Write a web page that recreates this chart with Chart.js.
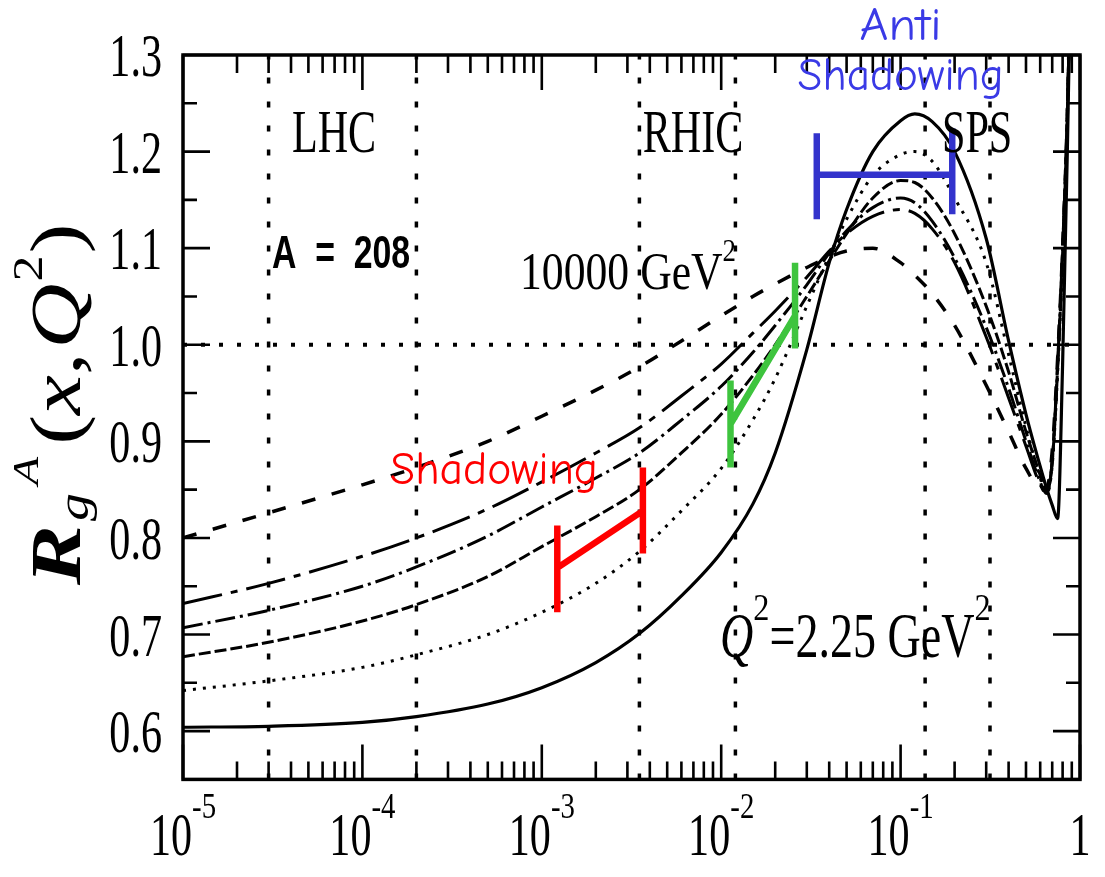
<!DOCTYPE html>
<html>
<head>
<meta charset="utf-8">
<title>R_g^A(x,Q^2)</title>
<script src="https://cdn.jsdelivr.net/npm/chart.js@4.4.1/dist/chart.umd.min.js"></script>
<style>
  html, body { margin: 0; padding: 0; background: #fff; }
  #wrap { width: 1105px; height: 877px; }
</style>
</head>
<body>
<div id="wrap"><canvas id="chart" width="1105" height="877"></canvas></div>
<script>
// x values shared by every curve
const xVals = [1e-5, 3e-5, 1e-4, 2e-4, 5e-4, 1e-3, 2e-3, 3.5e-3, 6e-3, 1e-2, 1.5e-2, 2e-2, 3e-2, 4e-2,
  5e-2, 7e-2, 0.1, 0.12, 0.15, 0.2, 0.3, 0.4, 0.5, 0.6, 0.65, 0.7, 0.75, 0.8, 0.85, 0.9];

// R_g^A for A = 208, from Q^2 = 2.25 GeV^2 (solid) up to 10000 GeV^2 (dashed)
const ratioQ2a = [0.604, 0.605, 0.609, 0.615, 0.628, 0.645, 0.671, 0.701, 0.740, 0.785, 0.835, 0.888, 0.995, 1.085,
  1.140, 1.200, 1.232, 1.239, 1.231, 1.200, 1.110, 1.004, 0.928, 0.874, 0.852, 0.834, 0.820, 0.980, 1.200, 1.450];
const ratioQ2b = [0.642, 0.652, 0.666, 0.679, 0.700, 0.723, 0.753, 0.786, 0.828, 0.872, 0.922, 0.965, 1.040, 1.092,
  1.130, 1.175, 1.197, 1.200, 1.190, 1.152, 1.085, 0.990, 0.915, 0.862, 0.846, 0.875, 0.970, 1.090, 1.240, 1.450];
const ratioQ2c = [0.677, 0.692, 0.714, 0.731, 0.760, 0.791, 0.822, 0.850, 0.888, 0.928, 0.968, 1.000, 1.050, 1.087,
  1.115, 1.152, 1.170, 1.168, 1.152, 1.115, 1.040, 0.972, 0.910, 0.865, 0.848, 0.878, 0.975, 1.095, 1.240, 1.450];
const ratioQ2d = [0.707, 0.725, 0.750, 0.770, 0.802, 0.832, 0.862, 0.888, 0.922, 0.957, 0.992, 1.020, 1.062, 1.095,
  1.118, 1.142, 1.152, 1.147, 1.128, 1.090, 1.018, 0.955, 0.900, 0.858, 0.846, 0.880, 0.978, 1.098, 1.240, 1.450];
const ratioQ2e = [0.732, 0.753, 0.781, 0.800, 0.830, 0.858, 0.888, 0.914, 0.947, 0.980, 1.012, 1.035, 1.070, 1.097,
  1.115, 1.133, 1.140, 1.136, 1.120, 1.085, 1.008, 0.945, 0.895, 0.855, 0.846, 0.880, 0.980, 1.100, 1.240, 1.450];
const ratioQ2f = [0.800, 0.826, 0.855, 0.873, 0.900, 0.926, 0.953, 0.977, 1.004, 1.030, 1.050, 1.063, 1.080, 1.091,
  1.097, 1.100, 1.085, 1.072, 1.053, 1.020, 0.958, 0.910, 0.872, 0.852, 0.852, 0.890, 0.985, 1.100, 1.240, 1.450];

// dotted guides: x ranges of the colliders and the R = 1 line
const regionX = [3e-5, 2e-4, 3.5e-3, 1.2e-2, 0.137, 0.315];
const unityY = 1.0;

// hand-drawn range markers: [left, right] x, bar bottoms, bar tops, link ends
const shadowX = [1.22e-3, 3.66e-3];
const shadowLo = [0.723, 0.784];
const shadowHi = [0.813, 0.873];
const shadowMid = [0.769, 0.828];
const rhicX = [1.127e-2, 2.58e-2];
const rhicLo = [0.873, 0.996];
const rhicHi = [0.963, 1.085];
const rhicMid = [0.918, 1.03];
const antiX = [3.41e-2, 0.194];
const antiLo = [1.130, 1.135];
const antiHi = [1.219, 1.224];
const antiMid = [1.176, 1.176];

// axis ticks
const xMajor = [1e-5, 1e-4, 1e-3, 1e-2, 1e-1, 1];
const xTickBase = ['10', '10', '10', '10', '10', '1'];
const xTickExp = ['-5', '-4', '-3', '-2', '-1', ''];
const yMajor = [0.6, 0.7, 0.8, 0.9, 1.0, 1.1, 1.2, 1.3];
const yTickLabels = ['0.6', '0.7', '0.8', '0.9', '1.0', '1.1', '1.2', '1.3'];

const SERIF = '"Liberation Serif", "Times New Roman", serif';
const COMIC = '"Comic Sans MS", "Comic Neue", Lato, sans-serif';

function curve(ys, dash, width) {
  return {
    data: xVals.map((x, i) => ({ x, y: ys[i] })),
    borderColor: '#000',
    borderWidth: width || 3,
    borderDash: dash,
    cubicInterpolationMode: 'monotone',
    pointRadius: 0,
    order: 1
  };
}

function marker(xs, lo, hi, mid, color) {
  return {
    data: [
      { x: xs[0], y: lo[0] }, { x: xs[0], y: hi[0] }, { x: xs[0], y: null },
      { x: xs[0], y: mid[0] }, { x: xs[1], y: mid[1] }, { x: xs[1], y: null },
      { x: xs[1], y: lo[1] }, { x: xs[1], y: hi[1] }
    ],
    borderColor: color,
    borderWidth: 6.5,
    pointRadius: 0,
    spanGaps: false,
    order: 0
  };
}

function guide(points, dash, width) {
  return {
    data: points,
    borderColor: '#000',
    borderWidth: width,
    borderDash: dash,
    pointRadius: 0,
    order: 2
  };
}

const datasets = [
  marker(shadowX, shadowLo, shadowHi, shadowMid, '#ff0000'),
  marker(rhicX, rhicLo, rhicHi, rhicMid, '#3ec43e'),
  marker(antiX, antiLo, antiHi, antiMid, '#3333cc'),
  curve(ratioQ2a, [], 3.2),
  curve(ratioQ2b, [3, 7], 3),
  curve(ratioQ2c, [12, 4], 3),
  curve(ratioQ2d, [20, 5, 3, 5], 3),
  curve(ratioQ2e, [40, 9, 7, 9], 3),
  curve(ratioQ2f, [14, 17], 3.5),
  guide([{ x: 1e-5, y: unityY }, { x: 1, y: unityY }], [4, 14], 4),
  ...regionX.map(v => guide([{ x: v, y: 0.55 }, { x: v, y: 1.3 }], [6, 18], 3.5))
];

// draws text squeezed horizontally; parts = [{text, font, sx, dy}]
function richText(ctx, parts, x, y, align) {
  let total = 0;
  const widths = parts.map(p => {
    ctx.font = p.font;
    const w = ctx.measureText(p.text).width * p.sx;
    total += w;
    return w;
  });
  let cx = align === 'center' ? x - total / 2 : align === 'right' ? x - total : x;
  parts.forEach((p, i) => {
    ctx.save();
    ctx.font = p.font;
    ctx.textAlign = 'left';
    ctx.textBaseline = 'alphabetic';
    ctx.translate(cx, y + (p.dy || 0));
    ctx.scale(p.sx, 1);
    ctx.fillText(p.text, 0, 0);
    ctx.restore();
    cx += widths[i];
  });
}

// same, but stretched or squeezed to a given width
function fitText(ctx, text, font, width, x, y, align) {
  ctx.font = font;
  const sx = width / ctx.measureText(text).width;
  richText(ctx, [{ text, font, sx }], x, y, align);
}

const annotations = [
  { parts: [{ text: 'LHC', font: '62px ' + SERIF, sx: 0.68 }], x: 6.95e-5, y: 1.2, align: 'center' },
  { parts: [{ text: 'RHIC', font: '62px ' + SERIF, sx: 0.68 }], x: 6.97e-3, y: 1.2, align: 'center' },
  { parts: [{ text: 'SPS', font: '62px ' + SERIF, sx: 0.68 }], x: 0.267, y: 1.2, align: 'center' },
  { parts: [{ text: 'A  =  208', font: 'bold 47px "Liberation Sans", Arial, sans-serif', sx: 0.72 }], x: 3.13e-5, y: 1.079, align: 'left' },
  { parts: [
      { text: '10000 GeV', font: '52px ' + SERIF, sx: 0.84 },
      { text: '2', font: '32px ' + SERIF, sx: 0.84, dy: -28 }
    ], x: 7.56e-4, y: 1.058, align: 'left' },
  { parts: [
      { text: 'Q', font: 'italic 64px ' + SERIF, sx: 0.72 },
      { text: '2', font: '38px ' + SERIF, sx: 0.85, dy: -37 },
      { text: '=2.25 GeV', font: '64px ' + SERIF, sx: 0.72 },
      { text: '2', font: '38px ' + SERIF, sx: 0.85, dy: -37 }
    ], x: 9.85e-3, y: 0.677, align: 'left' }
];

const handLabels = [
  { text: 'Shadowing', color: '#ff0000', width: 208, x: 1.425e-4, y: 0.856, align: 'left' },
  { text: 'Anti', color: '#3a3ae6', width: 82, x: 0.1, y: 1.3155, align: 'center' },
  { text: 'Shadowing', color: '#3a3ae6', width: 206, x: 0.1, y: 1.264, align: 'center' }
];

const frameAndText = {
  id: 'frameAndText',
  afterDraw(chart) {
    const { ctx, chartArea: a, scales: { x, y } } = chart;
    ctx.save();
    ctx.strokeStyle = '#000';
    ctx.fillStyle = '#000';

    // inward tick marks on all four sides
    ctx.lineWidth = 2.6;
    ctx.beginPath();
    for (let d = -5; d <= 0; d++) {
      for (let m = 1; m <= 9; m++) {
        const v = m * Math.pow(10, d);
        if (v > 1) break;
        const px = x.getPixelForValue(v);
        const len = m === 1 ? 35 : 18;
        ctx.moveTo(px, a.bottom); ctx.lineTo(px, a.bottom - len);
        ctx.moveTo(px, a.top); ctx.lineTo(px, a.top + len);
      }
    }
    for (let k = 11; k <= 26; k++) {
      const v = k * 0.05;
      const py = y.getPixelForValue(v);
      const len = k % 2 === 0 ? 27 : 14;
      ctx.moveTo(a.left, py); ctx.lineTo(a.left + len, py);
      ctx.moveTo(a.right, py); ctx.lineTo(a.right - len, py);
    }
    ctx.stroke();

    ctx.lineWidth = 3.5;
    ctx.strokeRect(a.left, a.top, a.right - a.left, a.bottom - a.top);

    // tick labels
    yMajor.forEach((v, i) => {
      richText(ctx, [{ text: yTickLabels[i], font: '62px ' + SERIF, sx: 0.68 }], 162, y.getPixelForValue(v) + 21, 'right');
    });
    xMajor.forEach((v, i) => {
      const parts = [{ text: xTickBase[i], font: '62px ' + SERIF, sx: 0.68 }];
      if (xTickExp[i]) parts.push({ text: xTickExp[i], font: '36px ' + SERIF, sx: 0.8, dy: -37 });
      richText(ctx, parts, x.getPixelForValue(v), 855, 'center');
    });

    // rotated axis title R_g^A(x,Q^2)
    ctx.save();
    ctx.translate(80, 585);
    ctx.scale(0.8, 1);
    ctx.rotate(-Math.PI / 2);
    ctx.textBaseline = 'alphabetic';
    const title = [
      { text: 'R', font: 'bold italic 90px ' + SERIF, dy: 0, gap: 4 },
      { text: 'g', font: 'italic 56px ' + SERIF, dy: -10, gap: 8 },
      { text: 'A', font: 'italic 46px ' + SERIF, dy: 52, gap: 12 },
      { text: '(', font: '90px ' + SERIF, dy: 0, gap: 0 },
      { text: 'x', font: 'italic 90px ' + SERIF, dy: 0, gap: 0 },
      { text: ',', font: '90px ' + SERIF, dy: 0, gap: 4 },
      { text: 'Q', font: 'italic 90px ' + SERIF, dy: 0, gap: 2 },
      { text: '2', font: '52px ' + SERIF, dy: 48, gap: 2 },
      { text: ')', font: '90px ' + SERIF, dy: 0, gap: 0 }
    ];
    let u = 0;
    title.forEach(p => {
      ctx.font = p.font;
      ctx.fillText(p.text, u, -p.dy);
      u += ctx.measureText(p.text).width + p.gap;
    });
    ctx.restore();

    // region and Q^2 labels
    annotations.forEach(t => {
      richText(ctx, t.parts, x.getPixelForValue(t.x), y.getPixelForValue(t.y), t.align);
    });
    handLabels.forEach(t => {
      ctx.fillStyle = t.color;
      fitText(ctx, t.text, '46px ' + COMIC, t.width, x.getPixelForValue(t.x), y.getPixelForValue(t.y), t.align);
    });
    ctx.restore();
  }
};

new Chart(document.getElementById('chart'), {
  type: 'line',
  data: { datasets },
  options: {
    responsive: false,
    animation: false,
    layout: { padding: { left: 183, right: 25, top: 55, bottom: 97.6 } },
    plugins: { legend: { display: false }, tooltip: { enabled: false } },
    scales: {
      x: { type: 'logarithmic', min: 1e-5, max: 1, display: false },
      y: { type: 'linear', min: 0.55, max: 1.3, display: false }
    }
  },
  plugins: [frameAndText]
});
</script>
</body>
</html>
